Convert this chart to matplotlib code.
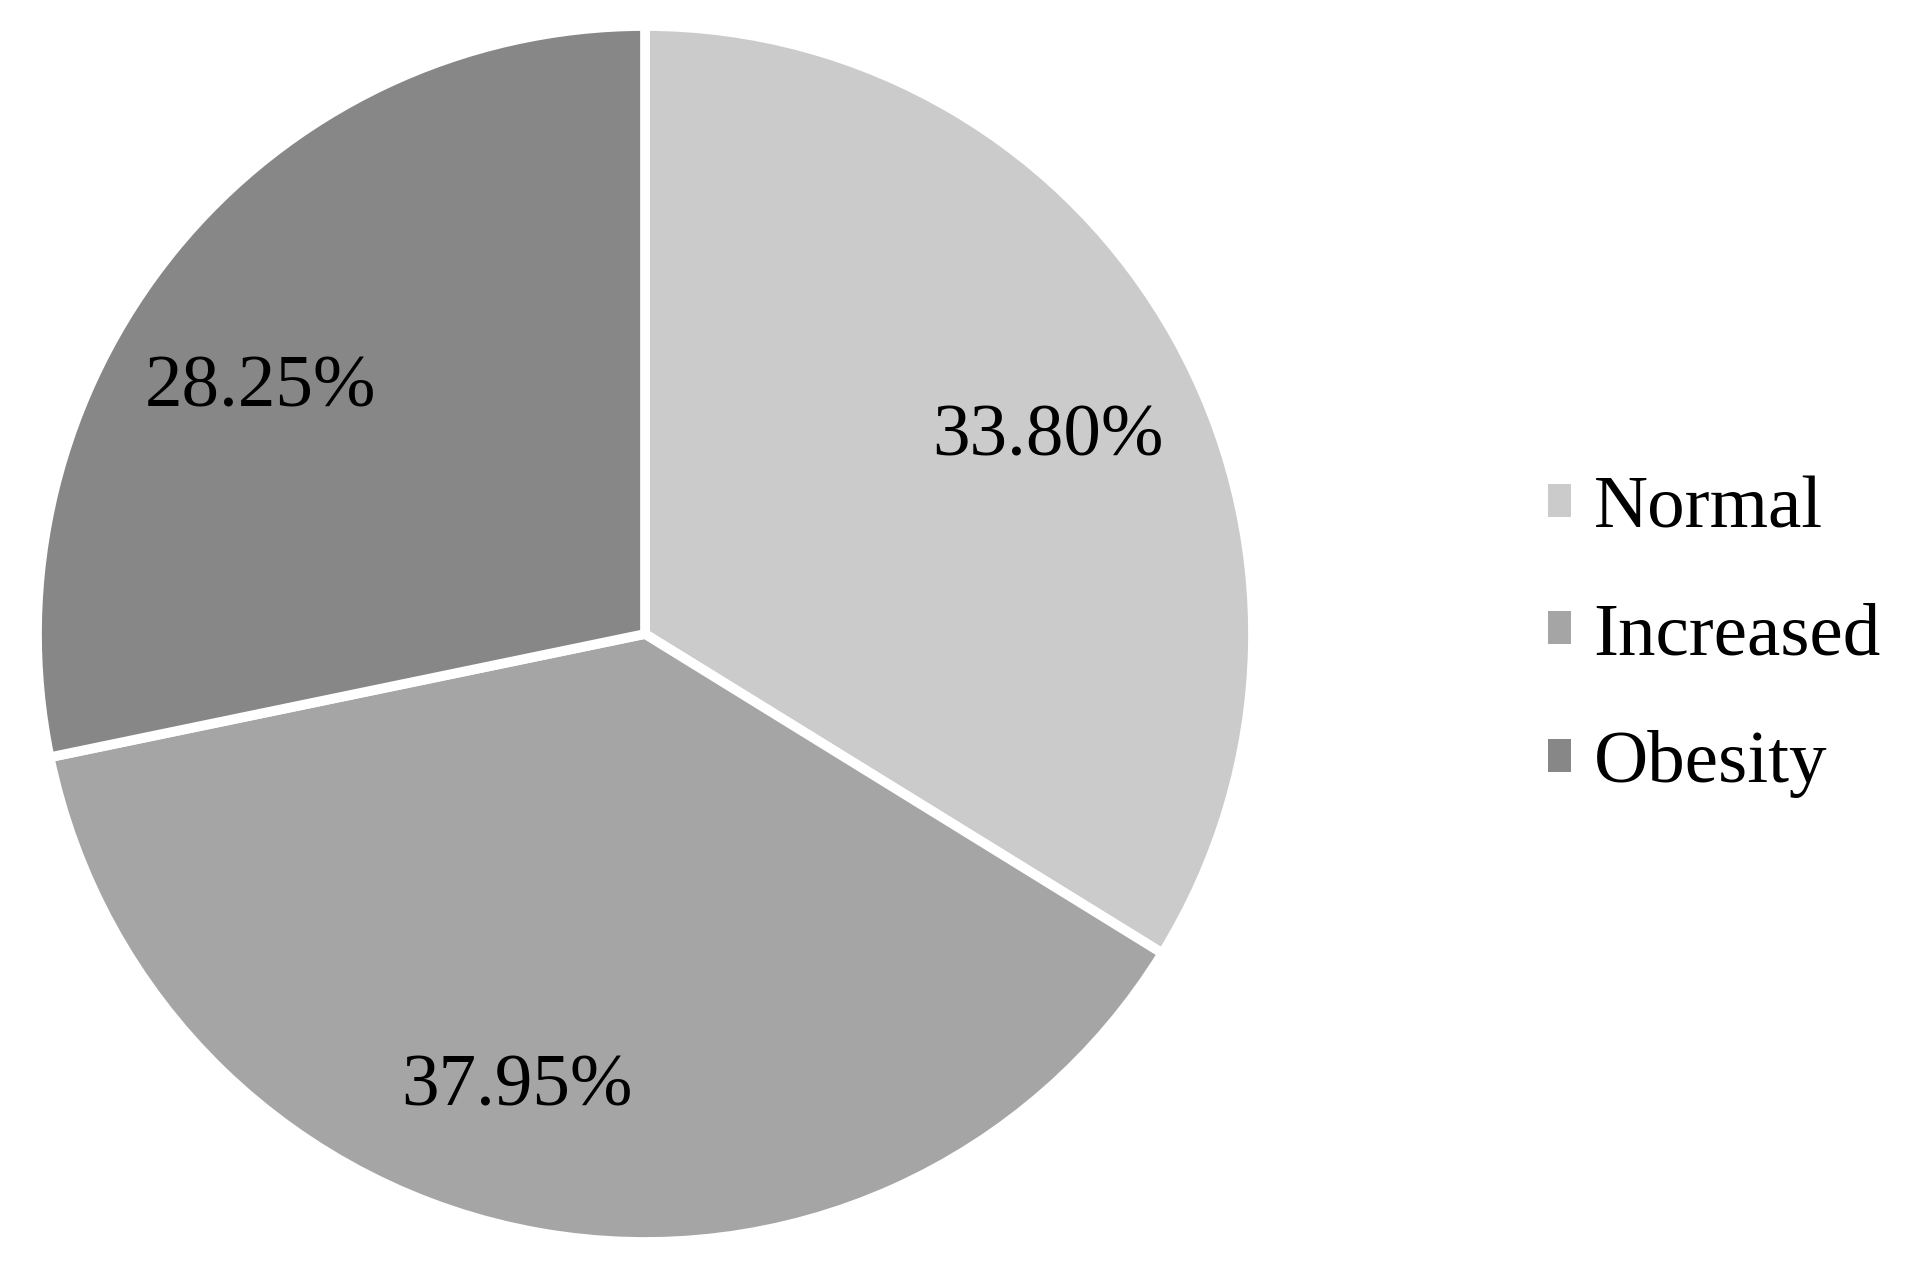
import matplotlib
matplotlib.use("Agg")
import matplotlib.pyplot as plt

# BMI categories and their shares (%)
categories = ["Normal", "Increased", "Obesity"]
shares = [33.80, 37.95, 28.25]
colors = ["#cbcbcb", "#a5a5a5", "#878787"]

# where the percent labels sit, in pie radius units
label_pos = [(0.663, 0.322), (-0.211, -0.747), (-0.632, 0.403)]

plt.rcParams["font.family"] = ["Liberation Serif", "DejaVu Serif"]

fig = plt.figure(figsize=(19.07, 12.74), dpi=100)
W, H = 1907, 1274
cx, cy, r = 645, 634, 608
lim = 1.05
side = 2 * lim * r
ax = fig.add_axes([(cx - side / 2) / W, (H - cy - side / 2) / H, side / W, side / H])

wedges, texts, autotexts = ax.pie(
    shares, colors=colors, startangle=90, counterclock=False,
    autopct="%.2f%%", pctdistance=0.75,
    wedgeprops=dict(edgecolor="white", linewidth=7),
    textprops=dict(fontsize=54, color="black"))
for t, pos in zip(autotexts, label_pos):
    t.set_position(pos)
ax.set_xlim(-lim, lim)
ax.set_ylim(-lim, lim)
ax.set_aspect("equal")
ax.axis("off")

fig.legend(wedges, categories, loc="center left",
           bbox_to_anchor=(0.812, 0.5), frameon=False, fontsize=54,
           handlelength=0.3, handleheight=0.3, handletextpad=0.3,
           labelspacing=0.8, borderpad=0, borderaxespad=0)
for h in fig.legends[0].legend_handles:
    h.set_edgecolor("none")

fig.savefig("out.png", dpi=100, facecolor="white")
